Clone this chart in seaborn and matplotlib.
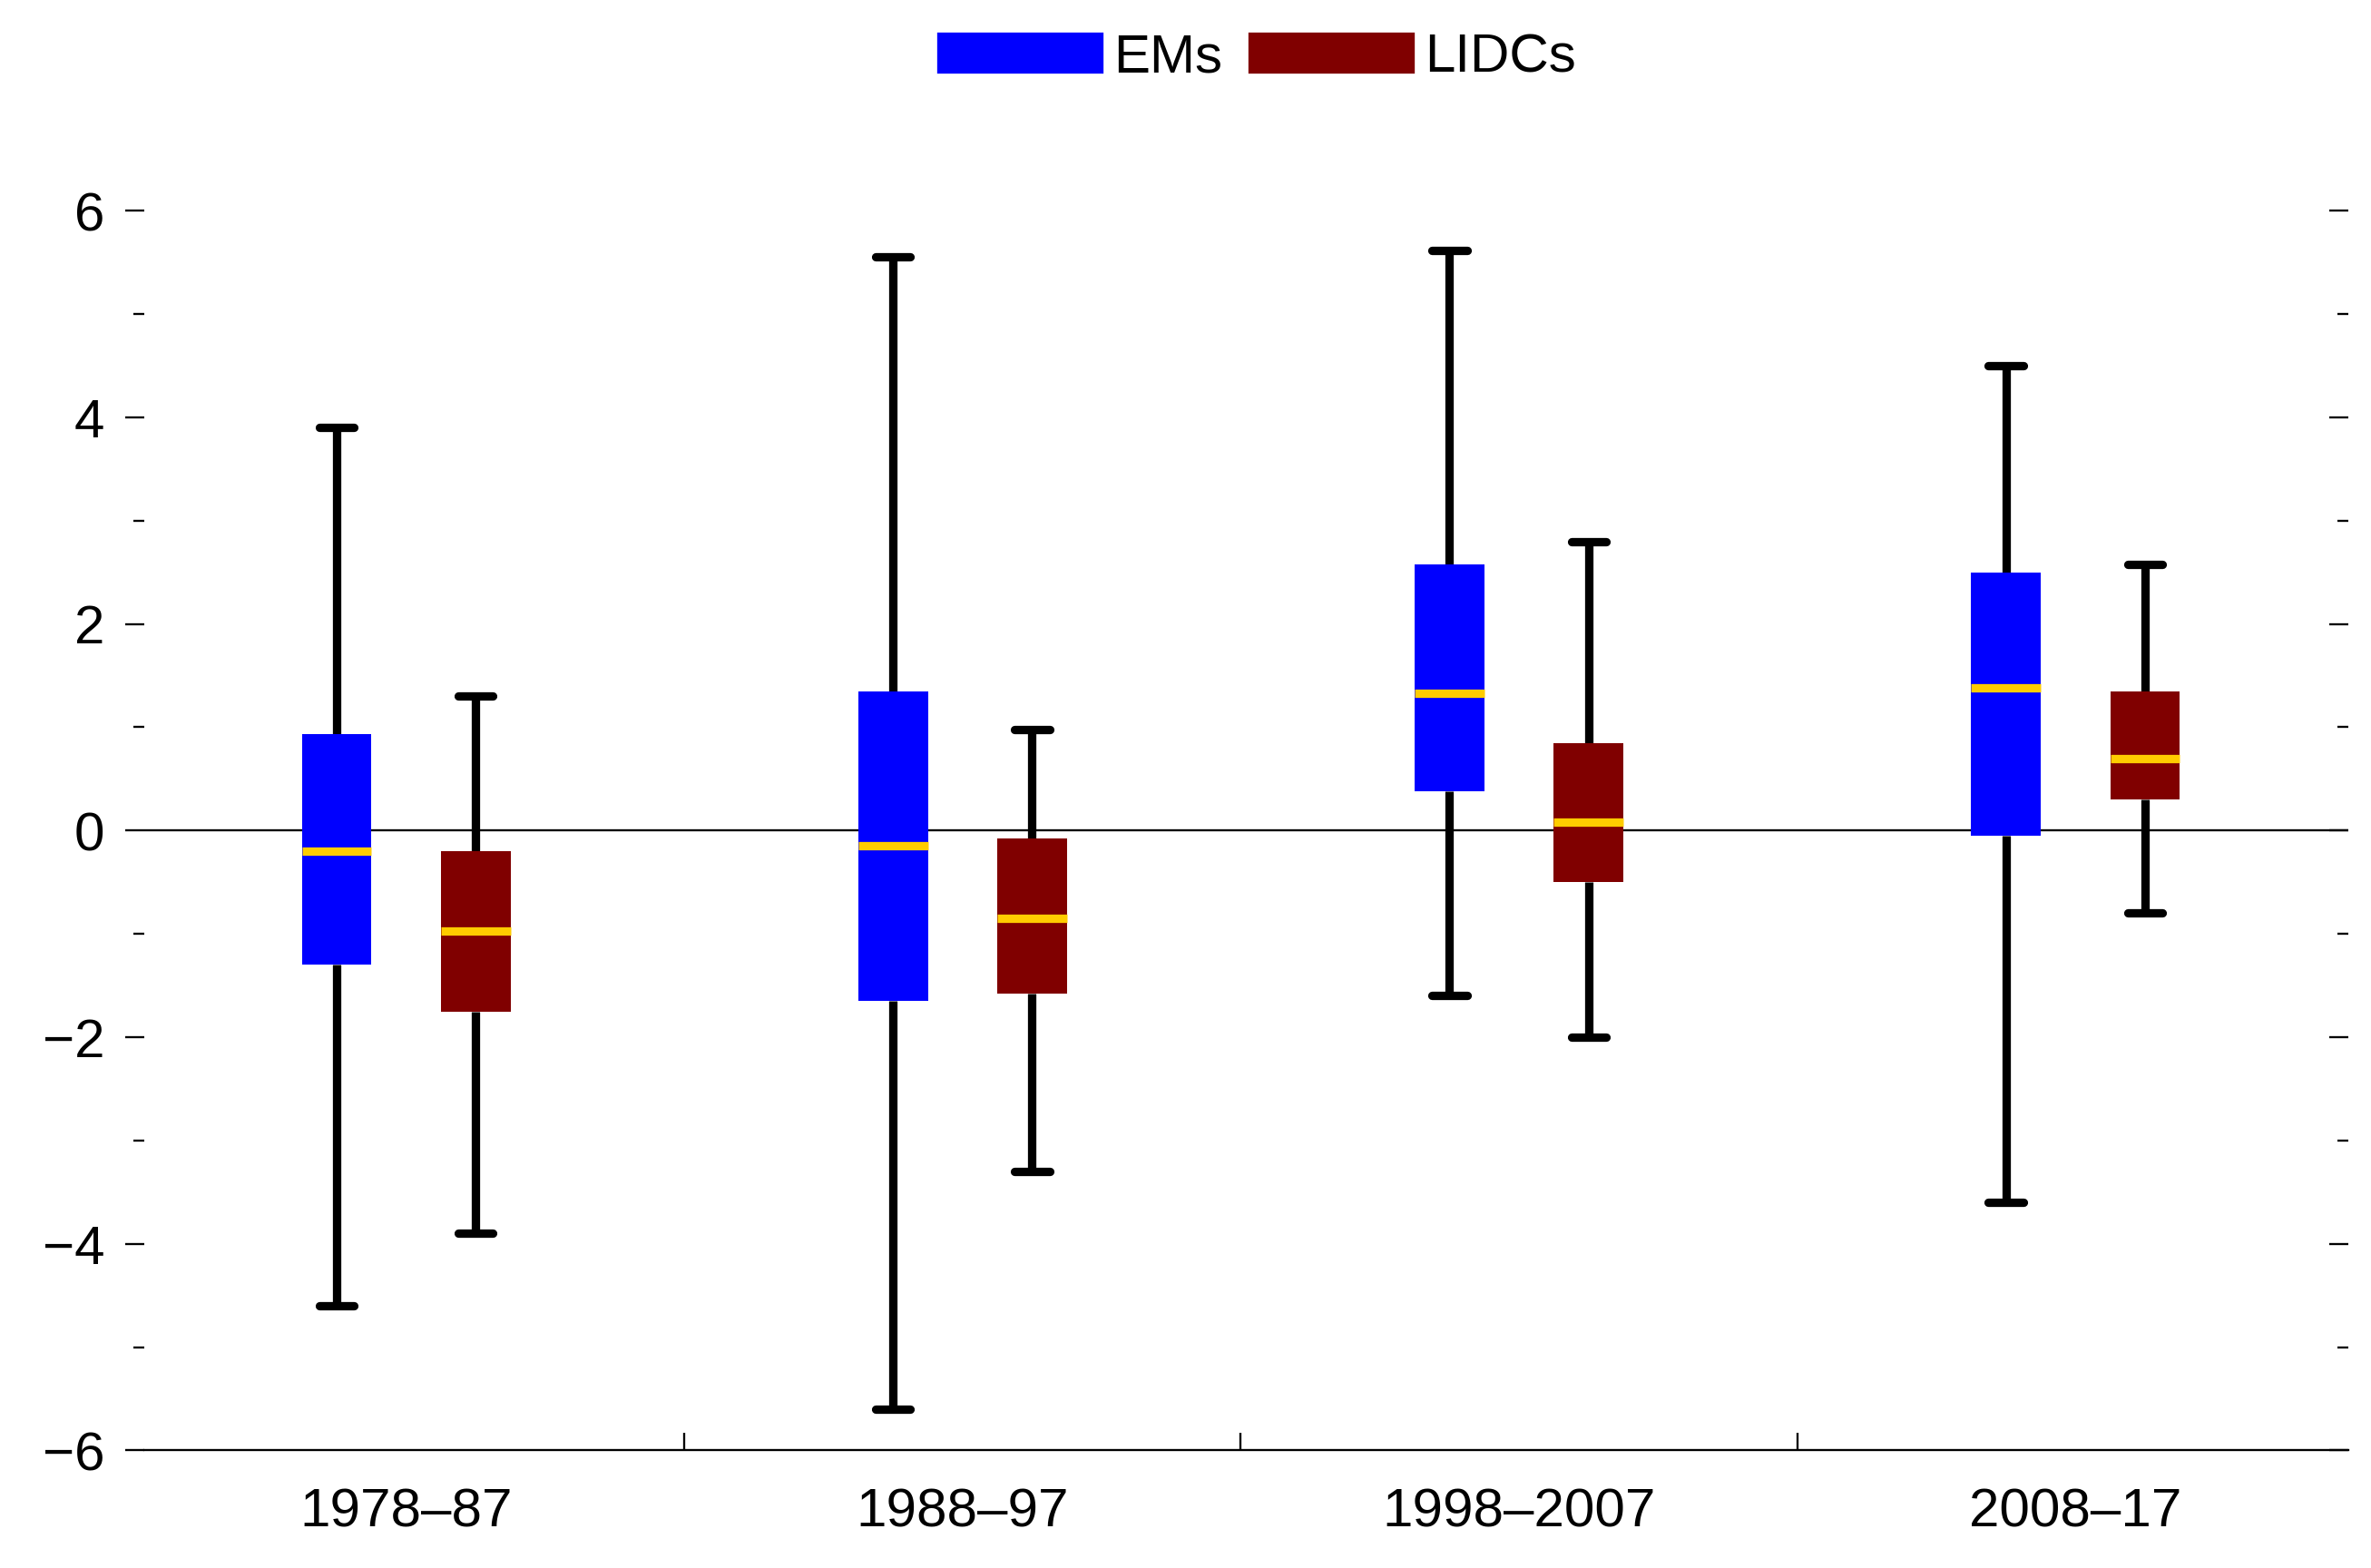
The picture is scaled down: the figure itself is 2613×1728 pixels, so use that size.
import matplotlib
matplotlib.use("Agg")
import matplotlib.pyplot as plt
import seaborn as sns
import pandas as pd
from matplotlib.patches import Patch
from matplotlib.ticker import FixedLocator

periods = ["1978–87", "1988–97", "1998–2007", "2008–17"]
groups = ["EMs", "LIDCs"]
# min, q1, median, q3, max
ems_stats = [[-4.6, -1.3, -0.2, 0.93, 3.9],
             [-5.6, -1.65, -0.15, 1.35, 5.55],
             [-1.6, 0.38, 1.33, 2.58, 5.62],
             [-3.6, -0.05, 1.38, 2.5, 4.5]]
lidc_stats = [[-3.9, -1.75, -0.97, -0.2, 1.3],
              [-3.3, -1.58, -0.85, -0.08, 0.98],
              [-2.0, -0.5, 0.08, 0.85, 2.8],
              [-0.8, 0.3, 0.7, 1.35, 2.58]]
colors = {"EMs": "#0000ff", "LIDCs": "#800000"}

rows = []
for g, stats in zip(groups, [ems_stats, lidc_stats]):
    for p, s in zip(periods, stats):
        for v in s:
            rows.append({"period": p, "group": g, "value": v})
df = pd.DataFrame(rows)

sns.set_style("white")
plt.rcParams['font.family'] = ['Liberation Sans', 'DejaVu Sans']
plt.rcParams['text.color'] = 'black'
plt.rcParams['xtick.labelcolor'] = 'black'
plt.rcParams['ytick.labelcolor'] = 'black'

fig = plt.figure(figsize=(15.68, 10.368), dpi=166.7)
ax = fig.add_axes([0.061, 0.075, 0.929, 0.853])
lw = 4
sns.boxplot(data=df, x="period", y="value", hue="group", order=periods, hue_order=groups,
            palette=colors, whis=(0, 100), width=0.5, gap=0.5, saturation=1, ax=ax,
            linewidth=0, showfliers=False, legend=False,
            boxprops=dict(linewidth=0),
            whiskerprops=dict(color="black", linewidth=lw),
            capprops=dict(color="black", linewidth=lw),
            medianprops=dict(color="#ffcc00", linewidth=lw))
for ln in ax.lines:
    ln.set_zorder(1)
for pt in ax.patches:
    pt.set_zorder(2)
for ln in ax.lines:
    if ln.get_color() == "#ffcc00":
        ln.set_zorder(3)

ax.axhline(0, color="black", linewidth=1, zorder=0.5)
ax.set_ylim(-6, 6.95)
ax.set_xlim(-0.47, 3.49)
ax.set_xlabel("")
ax.set_ylabel("")
for s in ["top", "left", "right"]:
    ax.spines[s].set_visible(False)
ax.spines["bottom"].set_linewidth(1)
ax.spines["bottom"].set_color("black")
ax.set_yticks([-6, -4, -2, 0, 2, 4, 6])
ax.set_yticklabels(["−6", "−4", "−2", "0", "2", "4", "6"])
ax.yaxis.set_minor_locator(FixedLocator([-5, -3, -1, 1, 3, 5]))
ax.tick_params(axis="y", which="both", left=True, right=True, direction="out",
               length=9, width=1, color="black", labelsize=26, pad=10)
ax.tick_params(axis="y", which="minor", length=5)
ax.tick_params(axis="x", which="major", bottom=False, labelsize=26, pad=14)
ax.set_xticks([0.5, 1.5, 2.5], minor=True)
ax.tick_params(axis="x", which="minor", bottom=True, direction="in", length=8, width=1, color="black")
for t in ax.yaxis.get_major_ticks() + ax.yaxis.get_minor_ticks():
    t.tick2line.set_marker(matplotlib.lines.TICKLEFT)

handles = [Patch(color=colors[g], label=g) for g in groups]
fig.legend(handles=handles, loc="upper center", bbox_to_anchor=(0.53, 1.01), ncol=2, frameon=False,
           fontsize=26, handlelength=3, handleheight=0.7, columnspacing=0.5, handletextpad=0.2)
fig.savefig("out.png", dpi=166.7, facecolor="white")
